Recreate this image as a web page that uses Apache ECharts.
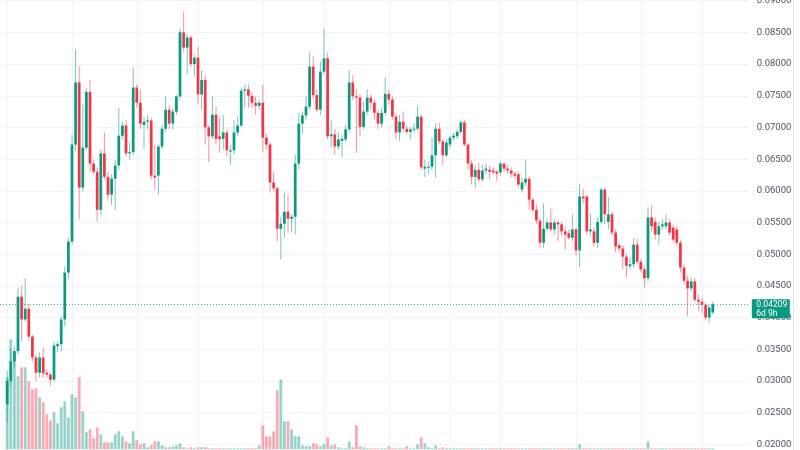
<!DOCTYPE html>
<html><head><meta charset="utf-8">
<script src="https://cdn.jsdelivr.net/npm/echarts@6/dist/echarts.min.js"></script>
<style>
html,body{margin:0;padding:0;background:#fff;width:800px;height:450px;overflow:hidden;position:relative}
#c{position:absolute;left:0;top:-30.71px;width:800px;height:507.43px}
</style>
</head><body><div id="c"></div>
<script>
// ---- data (weekly candles) ----
const openP = [0.0263,0.0300,0.0331,0.0347,0.0433,0.0397,0.0414,0.0370,0.0337,0.0313,
0.0337,0.0313,0.0310,0.0302,0.0355,0.0358,0.0397,0.0471,0.0520,0.0673,
0.0771,0.0605,0.0668,0.0756,0.0643,0.0630,0.0570,0.0659,0.0622,0.0594,
0.0619,0.0640,0.0687,0.0703,0.0659,0.0661,0.0763,0.0739,0.0704,0.0709,
0.0711,0.0624,0.0624,0.0670,0.0698,0.0728,0.0706,0.0725,0.0749,0.0850,
0.0826,0.0842,0.0800,0.0810,0.0752,0.0775,0.0700,0.0686,0.0720,0.0686,
0.0682,0.0692,0.0662,0.0664,0.0692,0.0703,0.0758,0.0760,0.0750,0.0739,
0.0734,0.0739,0.0684,0.0673,0.0613,0.0604,0.0540,0.0548,0.0567,0.0556,
0.0559,0.0643,0.0706,0.0719,0.0733,0.0796,0.0751,0.0728,0.0788,0.0809,
0.0686,0.0689,0.0670,0.0679,0.0681,0.0697,0.0771,0.0749,0.0747,0.0701,
0.0725,0.0747,0.0739,0.0723,0.0706,0.0723,0.0753,0.0744,0.0717,0.0692,
0.0709,0.0698,0.0693,0.0697,0.0698,0.0717,0.0635,0.0637,0.0638,0.0656,
0.0698,0.0678,0.0656,0.0673,0.0684,0.0686,0.0693,0.0708,0.0673,0.0643,
0.0622,0.0633,0.0618,0.0632,0.0633,0.0632,0.0630,0.0629,0.0643,0.0635,
0.0632,0.0627,0.0626,0.0602,0.0613,0.0619,0.0586,0.0570,0.0553,0.0518,
0.0540,0.0550,0.0539,0.0550,0.0547,0.0536,0.0533,0.0526,0.0539,0.0506,
0.0591,0.0591,0.0536,0.0536,0.0518,0.0551,0.0602,0.0551,0.0563,0.0534,
0.0514,0.0509,0.0496,0.0481,0.0484,0.0515,0.0488,0.0476,0.0462,0.0558,
0.0551,0.0531,0.0544,0.0544,0.0550,0.0542,0.0539,0.0518,0.0479,0.0458,
0.0446,0.0457,0.0428,0.0425,0.0420,0.0400,0.0408];
const closeP = [0.0300,0.0331,0.0347,0.0433,0.0397,0.0414,0.0370,0.0337,0.0313,0.0337,
0.0312,0.0310,0.0302,0.0356,0.0358,0.0397,0.0471,0.0520,0.0673,0.0771,
0.0605,0.0668,0.0756,0.0643,0.0630,0.0570,0.0659,0.0622,0.0594,0.0619,
0.0640,0.0687,0.0703,0.0659,0.0661,0.0763,0.0739,0.0706,0.0709,0.0711,
0.0624,0.0621,0.0670,0.0698,0.0728,0.0706,0.0725,0.0749,0.0850,0.0826,
0.0842,0.0800,0.0810,0.0752,0.0775,0.0700,0.0686,0.0720,0.0682,0.0682,
0.0692,0.0664,0.0664,0.0692,0.0703,0.0758,0.0760,0.0750,0.0739,0.0734,
0.0739,0.0684,0.0673,0.0613,0.0604,0.0540,0.0548,0.0567,0.0556,0.0559,
0.0643,0.0706,0.0719,0.0733,0.0796,0.0751,0.0728,0.0788,0.0809,0.0686,
0.0689,0.0670,0.0681,0.0682,0.0697,0.0771,0.0749,0.0747,0.0701,0.0725,
0.0747,0.0739,0.0723,0.0706,0.0723,0.0753,0.0744,0.0717,0.0692,0.0709,
0.0698,0.0693,0.0697,0.0698,0.0717,0.0637,0.0638,0.0638,0.0656,0.0698,
0.0678,0.0656,0.0676,0.0684,0.0687,0.0693,0.0708,0.0673,0.0643,0.0622,
0.0633,0.0618,0.0632,0.0635,0.0630,0.0629,0.0627,0.0643,0.0635,0.0632,
0.0627,0.0624,0.0610,0.0613,0.0619,0.0586,0.0570,0.0553,0.0518,0.0540,
0.0550,0.0539,0.0550,0.0547,0.0536,0.0531,0.0526,0.0539,0.0506,0.0591,
0.0588,0.0536,0.0539,0.0518,0.0551,0.0602,0.0563,0.0563,0.0534,0.0512,
0.0509,0.0496,0.0482,0.0484,0.0515,0.0488,0.0476,0.0462,0.0558,0.0544,
0.0531,0.0544,0.0547,0.0550,0.0534,0.0523,0.0518,0.0479,0.0458,0.0446,
0.0457,0.0428,0.0425,0.0420,0.0400,0.0416,0.04209];
const highP = [0.0316,0.0351,0.0354,0.0446,0.0450,0.0462,0.0422,0.0373,0.0342,0.0345,
0.0353,0.0318,0.0313,0.0362,0.0362,0.0402,0.0481,0.0526,0.0689,0.0823,
0.0797,0.0736,0.0762,0.0775,0.0649,0.0637,0.0665,0.0692,0.0630,0.0626,
0.0649,0.0731,0.0709,0.0712,0.0676,0.0794,0.0768,0.0760,0.0716,0.0720,
0.0716,0.0673,0.0673,0.0704,0.0749,0.0735,0.0731,0.0752,0.0856,0.0883,
0.0848,0.0846,0.0815,0.0827,0.0791,0.0783,0.0704,0.0750,0.0733,0.0717,
0.0720,0.0697,0.0673,0.0712,0.0717,0.0763,0.0768,0.0768,0.0756,0.0749,
0.0744,0.0768,0.0689,0.0676,0.0630,0.0607,0.0559,0.0597,0.0594,0.0563,
0.0657,0.0723,0.0725,0.0749,0.0818,0.0812,0.0760,0.0804,0.0856,0.0818,
0.0712,0.0697,0.0693,0.0689,0.0704,0.0791,0.0783,0.0760,0.0752,0.0741,
0.0760,0.0752,0.0744,0.0728,0.0731,0.0779,0.0760,0.0749,0.0722,0.0720,
0.0725,0.0703,0.0701,0.0706,0.0734,0.0720,0.0649,0.0646,0.0684,0.0707,
0.0707,0.0681,0.0681,0.0687,0.0692,0.0697,0.0711,0.0712,0.0676,0.0649,
0.0641,0.0644,0.0641,0.0643,0.0640,0.0637,0.0633,0.0646,0.0644,0.0641,
0.0637,0.0630,0.0630,0.0621,0.0649,0.0622,0.0589,0.0578,0.0558,0.0581,
0.0555,0.0572,0.0555,0.0553,0.0551,0.0542,0.0539,0.0563,0.0542,0.0611,
0.0603,0.0594,0.0564,0.0542,0.0558,0.0605,0.0605,0.0590,0.0567,0.0539,
0.0518,0.0514,0.0501,0.0495,0.0526,0.0525,0.0493,0.0482,0.0574,0.0577,
0.0558,0.0551,0.0555,0.0563,0.0555,0.0547,0.0545,0.0523,0.0484,0.0466,
0.0463,0.0462,0.0436,0.0431,0.0423,0.0419,0.0425];
const lowP = [0.0234,0.0292,0.0323,0.0342,0.0362,0.0394,0.0365,0.0331,0.0300,0.0305,
0.0305,0.0305,0.0292,0.0299,0.0346,0.0347,0.0386,0.0460,0.0515,0.0662,
0.0555,0.0599,0.0665,0.0629,0.0626,0.0551,0.0562,0.0618,0.0586,0.0578,
0.0570,0.0633,0.0681,0.0653,0.0649,0.0656,0.0731,0.0697,0.0665,0.0697,
0.0618,0.0602,0.0594,0.0665,0.0693,0.0697,0.0697,0.0720,0.0744,0.0820,
0.0783,0.0795,0.0781,0.0736,0.0728,0.0673,0.0645,0.0681,0.0673,0.0660,
0.0665,0.0654,0.0641,0.0657,0.0687,0.0700,0.0731,0.0731,0.0731,0.0720,
0.0728,0.0662,0.0665,0.0597,0.0599,0.0520,0.0492,0.0526,0.0534,0.0534,
0.0531,0.0633,0.0689,0.0712,0.0728,0.0744,0.0725,0.0720,0.0783,0.0681,
0.0668,0.0657,0.0665,0.0654,0.0678,0.0693,0.0744,0.0660,0.0686,0.0697,
0.0720,0.0728,0.0712,0.0697,0.0700,0.0719,0.0736,0.0712,0.0681,0.0678,
0.0693,0.0689,0.0681,0.0692,0.0695,0.0633,0.0622,0.0626,0.0633,0.0621,
0.0673,0.0641,0.0653,0.0668,0.0679,0.0682,0.0690,0.0670,0.0633,0.0610,
0.0605,0.0615,0.0615,0.0626,0.0618,0.0626,0.0615,0.0624,0.0630,0.0627,
0.0621,0.0618,0.0605,0.0597,0.0608,0.0570,0.0566,0.0548,0.0510,0.0510,
0.0537,0.0534,0.0532,0.0520,0.0529,0.0507,0.0523,0.0521,0.0498,0.0479,
0.0580,0.0531,0.0529,0.0512,0.0510,0.0547,0.0547,0.0539,0.0529,0.0503,
0.0504,0.0476,0.0463,0.0476,0.0479,0.0484,0.0471,0.0447,0.0457,0.0536,
0.0523,0.0515,0.0539,0.0539,0.0529,0.0518,0.0514,0.0471,0.0452,0.0402,
0.0441,0.0424,0.0410,0.0407,0.0395,0.0392,0.0405];
const volume = [72,110,98,73,82,82,68,60,61,52,
47,35,29,37,26,42,48,32,55,52,
72,38,17,20,11,22,15,7,7,7,
15,18,13,8,6,18,9,5,6,2,
4,8,8,4,2,2,3,4,6,2,
1,2,1,2,2,2,1,1,1,1,
1,1,1,1,1,1,1,1,1,1,
4,24,13,13,18,59,70,28,28,20,
13,13,4,3,3,6,5,3,5,12,
4,5,2,1,1,8,2,24,3,2,
1,1,1,1,1,1,3,1,1,1,
1,3,1,1,5,12,6,2,1,4,
1,2,1,1,1,1,1,1,1,1,
1,1,1,1,1,1,1,1,1,1,
1,1,1,1,1,1,1,1,1,1,
1,1,1,1,1,1,1,1,1,5,
1,1,1,1,1,1,1,1,1,1,
1,1,1,1,1,1,1,1,8,1,
1,1,1,1,1,1,1,1,1,1,
1,1,1,1,1,1,1];
const priceMin = 0.015, priceMax = 0.095, priceStep = 0.005;
const lastPrice = 0.04209;
const countdown = '6d 9h';
const gridWeeks = [0,18,36,53,71,88,106,123,137,158,176,193];
const LEAD = 2, TRAIL = 10;

const categories = [];
const t0 = Date.UTC(2021, 1, 15);
for (let k = 0; k < LEAD + openP.length + TRAIL; k++) {
  categories.push(new Date(t0 + k * 7 * 86400000).toISOString().slice(0, 10));
}

const UP = '#089981', DOWN = '#f23645';
const FONT = 'Roboto, "Liberation Sans", sans-serif';

const candleData = openP.map((o, i) => [i + LEAD, o, closeP[i], lowP[i], highP[i]]);
const volData = volume.map((v, i) => ({
  value: [i + LEAD, v],
  itemStyle: { color: closeP[i] >= openP[i] ? 'rgba(8,153,129,0.42)' : 'rgba(242,54,69,0.42)' }
}));

const el = document.getElementById('c');
const chart = echarts.init(el, null, { renderer: 'canvas' });
const H = el.clientHeight;
chart.setOption({
  animation: false,
  backgroundColor: '#ffffff',
  grid: [
    { left: 0, right: 51.2, top: 0, bottom: 0, outerBoundsMode: 'none', containLabel: false },
    { left: 0, right: 51.2, bottom: 26.72, height: 150, outerBoundsMode: 'none', containLabel: false }
  ],
  xAxis: [
    { type: 'category', gridIndex: 0, data: categories, boundaryGap: false,
      axisLine: { show: false }, axisTick: { show: false }, axisLabel: { show: false },
      splitLine: { show: true, interval: (idx) => gridWeeks.includes(idx - LEAD),
        lineStyle: { color: '#f0f3fa', width: 1 } } },
    { type: 'category', gridIndex: 1, data: categories, boundaryGap: false, show: false }
  ],
  yAxis: [
    { type: 'value', gridIndex: 0, position: 'right', min: priceMin, max: priceMax, interval: priceStep,
      axisLine: { show: false }, axisTick: { show: false },
      axisLabel: { margin: 8, color: '#50535e', fontSize: 9.5, fontFamily: FONT,
        formatter: (v) => v.toFixed(5) },
      splitLine: { show: true, lineStyle: { color: '#f0f3fa', width: 1 } } },
    { type: 'value', gridIndex: 1, min: 0, max: 150, show: false, splitLine: { show: false } }
  ],
  series: [
    { type: 'bar', xAxisIndex: 1, yAxisIndex: 1, data: volData, barWidth: 2.8, z: 1, silent: true },
    { type: 'custom', xAxisIndex: 0, yAxisIndex: 0, z: 3, silent: true,
      encode: { x: 0, y: [1, 2, 3, 4] },
      data: candleData,
      renderItem: function (params, api) {
        const x = api.value(0), o = api.value(1), c = api.value(2), l = api.value(3), h = api.value(4);
        const pO = api.coord([x, o]), pC = api.coord([x, c]);
        const pL = api.coord([x, l]), pH = api.coord([x, h]);
        const w = api.size([1, 0])[0] * 0.76;
        const col = c >= o ? UP : DOWN;
        const top = Math.min(pO[1], pC[1]);
        const bh = Math.max(Math.abs(pO[1] - pC[1]), 1);
        const cx = pO[0];
        return { type: 'group', children: [
          { type: 'line', shape: { x1: cx, y1: pH[1], x2: cx, y2: pL[1] },
            style: { stroke: col, lineWidth: 1, opacity: 0.55 } },
          { type: 'rect', shape: { x: cx - w / 2, y: top, width: w, height: bh },
            style: { fill: col } }
        ] };
      }
    }
  ]
});

// last-price line and tag, placed through the price axis scale
const py = chart.convertToPixel({ yAxisIndex: 0 }, lastPrice);
const gx = chart.convertToPixel({ xAxisIndex: 0 }, categories.length - 1);
const gx0 = chart.convertToPixel({ xAxisIndex: 0 }, 0);
const pyl = Math.round(py) + 0.5;
chart.setOption({
  graphic: [
    { type: 'line', z: 50, silent: true, shape: { x1: gx0, y1: pyl, x2: gx, y2: pyl },
      style: { stroke: UP, lineWidth: 1, lineDash: [1, 2], opacity: 0.75 } },
    { type: 'rect', z: 100, shape: { x: gx + 3, y: py - 5, width: 38, height: 19, r: 1 }, style: { fill: UP } },
    { type: 'text', z: 101, x: gx + 7.5, y: py + 0.5, scaleX: 0.9,
      style: { text: lastPrice.toFixed(5), fill: '#ffffff', fontSize: 9.5, fontFamily: FONT, verticalAlign: 'middle' } },
    { type: 'text', z: 101, x: gx + 7.5, y: py + 9, scaleX: 0.9,
      style: { text: countdown, fill: '#ffffff', fontSize: 9.5, fontFamily: FONT, verticalAlign: 'middle' } },
    { type: 'line', z: 100, shape: { x1: 793.5, y1: 0, x2: 793.5, y2: H }, style: { stroke: '#e0e3eb', lineWidth: 1 } }
  ]
});
</script>
</body></html>
